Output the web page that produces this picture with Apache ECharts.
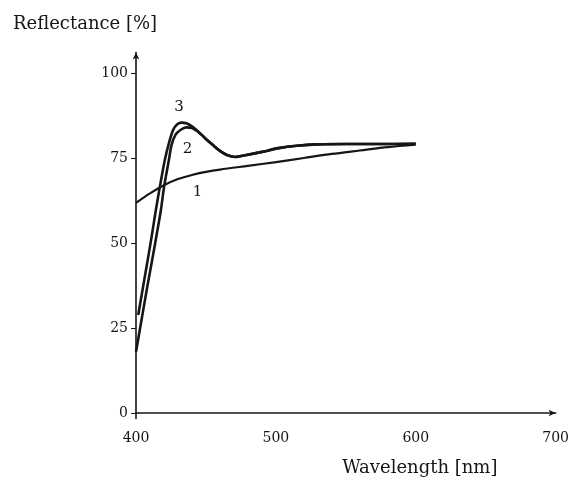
<!DOCTYPE html>
<html>
<head>
<meta charset="utf-8">
<script src="https://cdn.jsdelivr.net/npm/echarts@6/dist/echarts.min.js"></script>
<style>
  html, body { margin: 0; padding: 0; background: #fff; }
  #chart { width: 572px; height: 482px; }
</style>
</head>
<body>
<div id="chart"></div>
<script>
// wavelength [nm], reflectance [%]
var curve1 = [
  [400, 61.8], [410, 64.6], [420, 67], [430, 68.8], [440, 70], [450, 70.9],
  [460, 71.6], [480, 72.7], [500, 73.8], [520, 75], [540, 76.2], [560, 77.2],
  [580, 78.2], [600, 78.9]
];
// curves 2 and 3 run together after the dip
var tail23 = [
  [455, 78.8], [460, 77.1], [465, 75.9], [471, 75.3], [478, 75.8], [490, 76.8],
  [502, 77.9], [515, 78.6], [530, 79], [550, 79.1], [575, 79.1], [600, 79.2]
];
var curve2 = [
  [400, 18], [404, 27.5], [408, 37], [412, 46], [415, 53], [417.8, 59.7],
  [420.1, 66.6], [423.5, 74.4], [425.4, 78.8], [428.2, 81.8], [432, 83.3],
  [436, 84], [440, 83.8], [444, 82.8], [447, 81.8], [450, 80.6]
].concat(tail23);
var curve3 = [
  [401.6, 28.8], [405, 37], [409, 46.5], [412, 54], [414.2, 59.7], [417.1, 66.6],
  [420.6, 74.4], [423.5, 79.3], [426.5, 83.2], [429.5, 84.9], [432.5, 85.4],
  [436, 85.2], [440, 84.3], [445, 82.6], [450, 80.6]
].concat(tail23);

var xTicks = [400, 500, 600, 700];
var yTicks = [0, 25, 50, 75, 100];

// where the curve numbers sit, in data units
var labelPos = { '1': [443.9, 65.1], '2': [436.8, 77.6], '3': [430.8, 89.9] };

var ink = "#161616";
var serif = "DejaVu Serif";

function curve(name, data, width) {
  return {
    name: name,
    type: "line",
    data: data,
    smooth: 0.3,
    showSymbol: false,
    lineStyle: { color: ink, width: width },
    markPoint: {
      symbol: "circle",
      symbolSize: 1,
      itemStyle: { color: "rgba(0,0,0,0)" },
      label: {
        show: true,
        position: "inside",
        formatter: name,
        color: ink,
        fontFamily: serif,
        fontSize: 15
      },
      data: [{ coord: labelPos[name] }]
    }
  };
}

var chart = echarts.init(document.getElementById("chart"));
chart.setOption({
  animation: false,
  backgroundColor: "#fff",
  title: {
    text: "Reflectance [%]",
    left: 8,
    top: 10,
    textStyle: { fontFamily: serif, fontSize: 18, fontWeight: "normal", color: ink }
  },
  grid: { left: 136, right: 14, top: 52.6, bottom: 69, containLabel: false },
  xAxis: {
    type: "value",
    min: 400,
    max: 700,
    interval: 100,
    name: "Wavelength [nm]",
    nameLocation: "middle",
    nameGap: 46,
    nameTextStyle: {
      fontFamily: serif, fontSize: 18, color: ink,
      padding: [0, 0, 0, 148]
    },
    axisLine: {
      lineStyle: { color: ink, width: 1.6 },
      symbol: ["none", "arrow"],
      symbolSize: [5, 7]
    },
    axisTick: { show: true, customValues: [400], length: 6, lineStyle: { color: ink, width: 1.6 } },
    axisLabel: {
      customValues: xTicks,
      margin: 18,
      fontFamily: serif,
      fontSize: 14,
      color: ink
    },
    splitLine: { show: false }
  },
  yAxis: {
    type: "value",
    min: 0,
    max: 106,
    axisLine: {
      show: true,
      lineStyle: { color: ink, width: 1.6 },
      symbol: ["none", "arrow"],
      symbolSize: [5, 7]
    },
    axisTick: {
      show: true,
      customValues: yTicks,
      length: 5,
      lineStyle: { color: ink, width: 1 }
    },
    axisLabel: {
      customValues: yTicks,
      margin: 8,
      fontFamily: serif,
      fontSize: 14,
      color: ink
    },
    splitLine: { show: false }
  },
  series: [
    curve("1", curve1, 2.2),
    curve("2", curve2, 2.6),
    curve("3", curve3, 2.6)
  ]
});
</script>
</body>
</html>
